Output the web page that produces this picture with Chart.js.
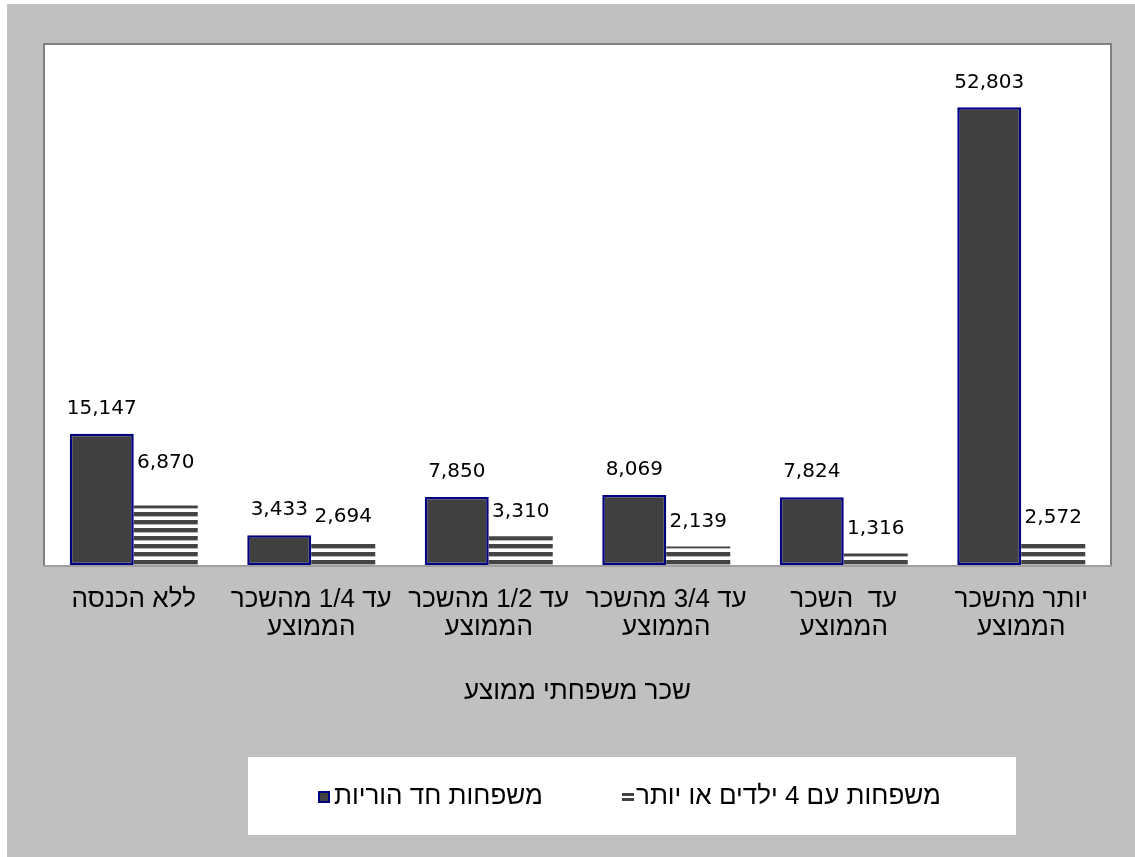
<!DOCTYPE html>
<html><head><meta charset="utf-8">
<script src="https://cdn.jsdelivr.net/npm/chart.js@4.4.1/dist/chart.umd.min.js"></script>
<style>html,body{margin:0;padding:0;background:#fff;} canvas{display:block;}</style>
</head><body>
<canvas id="c" width="1135" height="857"></canvas>
<script>
const categories = [["ללא הכנסה"], ["עד 1/4 מהשכר", "הממוצע"], ["עד 1/2 מהשכר", "הממוצע"], ["עד 3/4 מהשכר", "הממוצע"], ["עד  השכר", "הממוצע"], ["יותר מהשכר", "הממוצע"]];
const seriesNames = ["משפחות חד הוריות", "משפחות עם 4 ילדים או יותר"];
const singleParent = [15147, 3433, 7850, 8069, 7824, 52803];
const fourPlusKids = [6870, 2694, 3310, 2139, 1316, 2572];
const axisTitle = "שכר משפחתי ממוצע";
const yMax = 60000;

const NUMFONT = "'DejaVu Sans', sans-serif";
const HEBFONT = "'Liberation Sans', 'DejaVu Sans', sans-serif";
const hebSize = 26;

const canvas = document.getElementById('c');
const ctx0 = canvas.getContext('2d');

function makePattern() {
  const p = document.createElement('canvas');
  p.width = 8; p.height = 8;
  const g = p.getContext('2d');
  g.fillStyle = '#ffffff'; g.fillRect(0, 0, 8, 8);
  g.fillStyle = '#444444'; g.fillRect(0, 0, 8, 4);
  g.fillStyle = '#b4b4b4'; g.fillRect(0, 4, 8, 1);
  return ctx0.createPattern(p, 'repeat');
}
const hatch = makePattern();

const bgPlugin = {
  id: 'bg',
  beforeDraw(chart) {
    const ctx = chart.ctx, a = chart.chartArea;
    ctx.save();
    ctx.fillStyle = '#ffffff'; ctx.fillRect(0, 0, chart.width, chart.height);
    ctx.fillStyle = '#c0c0c0'; ctx.fillRect(7, 4, chart.width - 7, chart.height - 4);
    ctx.fillStyle = '#ffffff'; ctx.fillRect(a.left, a.top, a.right - a.left, a.bottom - a.top);
    ctx.strokeStyle = '#a0a0a0'; ctx.lineWidth = 2;
    ctx.strokeRect(a.left - 1, a.top - 1, a.right - a.left + 2, a.bottom - a.top + 2);
    ctx.strokeStyle = '#808080';
    ctx.beginPath();
    ctx.moveTo(a.left - 1, a.bottom); ctx.lineTo(a.left - 1, a.top - 1); ctx.lineTo(a.right + 1, a.top - 1); ctx.lineTo(a.right + 1, a.bottom);
    ctx.stroke();
    ctx.restore();
  }
};

// the first hatched label sits higher in the original
const labelLift = (di, i) => (di === 1 && i === 0) ? 43 : 25;

const labelPlugin = {
  id: 'vlabels',
  afterDatasetsDraw(chart) {
    const ctx = chart.ctx;
    ctx.save();
    ctx.font = '20px ' + NUMFONT;
    ctx.fillStyle = '#000';
    ctx.textAlign = 'center';
    ctx.textBaseline = 'middle';
    chart.data.datasets.forEach((ds, di) => {
      const meta = chart.getDatasetMeta(di);
      meta.data.forEach((el, i) => {
        ctx.fillText(ds.data[i].toLocaleString('en-US'), el.x, el.y - labelLift(di, i));
      });
    });
    ctx.restore();
  }
};

const legendPlugin = {
  id: 'customLegend',
  afterDraw(chart) {
    const ctx = chart.ctx;
    ctx.save();
    ctx.fillStyle = '#ffffff';
    ctx.fillRect(248, 757, 768, 78);
    ctx.font = hebSize + 'px ' + HEBFONT;
    ctx.textBaseline = 'middle';
    ctx.textAlign = 'left';
    const cy = 797;
    // item 1: dark bar
    ctx.fillStyle = '#000080'; ctx.fillRect(318, cy - 6, 12, 12);
    ctx.fillStyle = '#404040'; ctx.fillRect(320, cy - 4, 8, 8);
    ctx.fillStyle = '#000';
    ctx.fillText(seriesNames[0], 334, cy);
    // item 2: hatched
    ctx.fillStyle = '#444444';
    ctx.fillRect(622, cy - 4, 12, 3);
    ctx.fillRect(622, cy + 1, 12, 3);
    ctx.fillStyle = '#000';
    ctx.fillText(seriesNames[1], 636, cy);
    ctx.restore();
  }
};

new Chart(canvas, {
  type: 'bar',
  data: {
    labels: categories,
    datasets: [
      { label: seriesNames[0], data: singleParent, backgroundColor: '#404040', borderColor: '#000080', borderWidth: 2.5, borderSkipped: false },
      { label: seriesNames[1], data: fourPlusKids, backgroundColor: hatch, borderWidth: 0 }
    ]
  },
  options: {
    responsive: false,
    animation: false,
    devicePixelRatio: 1,
    layout: { padding: { left: 45, right: 25, top: 45, bottom: 150 } },
    datasets: { bar: { categoryPercentage: 0.721, barPercentage: 1 } },
    plugins: { legend: { display: false }, tooltip: { enabled: false } },
    scales: {
      x: {
        grid: { display: false, drawTicks: false },
        border: { display: false },
        ticks: { color: '#000', font: { family: HEBFONT, size: hebSize, lineHeight: 28 / hebSize }, padding: 21, maxRotation: 0, autoSkip: false },
        title: { display: true, text: axisTitle, color: '#000', font: { family: HEBFONT, size: hebSize, lineHeight: 1.2 }, padding: 0 },
        afterFit(scale) { scale.height = 142; }
      },
      y: { display: false, min: 0, max: yMax }
    }
  },
  plugins: [bgPlugin, labelPlugin, legendPlugin]
});
</script>
</body></html>
